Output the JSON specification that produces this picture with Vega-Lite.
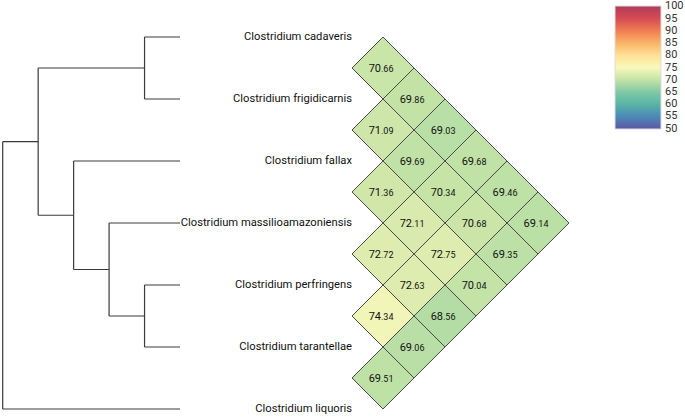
{
  "$schema": "https://vega.github.io/schema/vega-lite/v6.json",
  "width": 685,
  "height": 418,
  "padding": 0,
  "autosize": "none",
  "config": {"view": {"stroke": null}, "font": "Roboto"},
  "datasets": {
    "tree": [
      {"x1": 0, "x2": 0, "y1": 1.6875, "y2": 6},
      {"x1": 0, "x2": 1, "y1": 1.6875, "y2": 1.6875},
      {"x1": 0, "x2": 5, "y1": 6, "y2": 6},
      {"x1": 1, "x2": 1, "y1": 0.5, "y2": 2.875},
      {"x1": 1, "x2": 4, "y1": 0.5, "y2": 0.5},
      {"x1": 1, "x2": 2, "y1": 2.875, "y2": 2.875},
      {"x1": 4, "x2": 4, "y1": 0, "y2": 1},
      {"x1": 4, "x2": 5, "y1": 0, "y2": 0},
      {"x1": 4, "x2": 5, "y1": 1, "y2": 1},
      {"x1": 2, "x2": 2, "y1": 2, "y2": 3.75},
      {"x1": 2, "x2": 5, "y1": 2, "y2": 2},
      {"x1": 2, "x2": 3, "y1": 3.75, "y2": 3.75},
      {"x1": 3, "x2": 3, "y1": 3, "y2": 4.5},
      {"x1": 3, "x2": 5, "y1": 3, "y2": 3},
      {"x1": 3, "x2": 4, "y1": 4.5, "y2": 4.5},
      {"x1": 4, "x2": 4, "y1": 4, "y2": 5},
      {"x1": 4, "x2": 5, "y1": 4, "y2": 4},
      {"x1": 4, "x2": 5, "y1": 5, "y2": 5}
    ],
    "leaves": [
      {"name": "Clostridium cadaveris", "i": 0, "depth": 5},
      {"name": "Clostridium frigidicarnis", "i": 1, "depth": 5},
      {"name": "Clostridium fallax", "i": 2, "depth": 5},
      {"name": "Clostridium massilioamazoniensis", "i": 3, "depth": 5},
      {"name": "Clostridium perfringens", "i": 4, "depth": 5},
      {"name": "Clostridium tarantellae", "i": 5, "depth": 5},
      {"name": "Clostridium liquoris", "i": 6, "depth": 5}
    ],
    "cells": [
      {"i": 0, "j": 1, "value": 70.66},
      {"i": 0, "j": 2, "value": 69.86},
      {"i": 1, "j": 2, "value": 71.09},
      {"i": 0, "j": 3, "value": 69.03},
      {"i": 1, "j": 3, "value": 69.69},
      {"i": 2, "j": 3, "value": 71.36},
      {"i": 0, "j": 4, "value": 69.68},
      {"i": 1, "j": 4, "value": 70.34},
      {"i": 2, "j": 4, "value": 72.11},
      {"i": 3, "j": 4, "value": 72.72},
      {"i": 0, "j": 5, "value": 69.46},
      {"i": 1, "j": 5, "value": 70.68},
      {"i": 2, "j": 5, "value": 72.75},
      {"i": 3, "j": 5, "value": 72.63},
      {"i": 4, "j": 5, "value": 74.34},
      {"i": 0, "j": 6, "value": 69.14},
      {"i": 1, "j": 6, "value": 69.35},
      {"i": 2, "j": 6, "value": 70.04},
      {"i": 3, "j": 6, "value": 68.56},
      {"i": 4, "j": 6, "value": 69.06},
      {"i": 5, "j": 6, "value": 69.51}
    ]
  },
  "resolve": {"scale": {"x": "independent"}},
  "layer": [
    {
      "data": {"name": "tree"},
      "mark": {"type": "rule", "color": "#3a3a3a", "strokeWidth": 1.2},
      "encoding": {
        "x": {"field": "x1", "type": "quantitative", "axis": null, "scale": {"domain": [-0.0761, 19.241], "nice": false, "zero": false}},
        "x2": {"field": "x2"},
        "y": {"field": "y1", "type": "quantitative", "axis": null, "scale": {"domain": [-0.5968, 6.1452], "nice": false, "zero": false, "reverse": true}},
        "y2": {"field": "y2"}
      }
    },
    {
      "data": {"name": "leaves"},
      "mark": {"type": "text", "align": "right", "baseline": "middle", "dx": 172, "fontSize": 11.2, "color": "#111"},
      "encoding": {
        "x": {"field": "depth", "type": "quantitative", "axis": null, "scale": {"domain": [-0.0761, 19.241], "nice": false, "zero": false}},
        "y": {"field": "i", "type": "quantitative", "axis": null},
        "text": {"field": "name"}
      }
    },
    {
      "data": {"name": "cells"},
      "transform": [
        {"calculate": "datum.j - datum.i - 1", "as": "k"},
        {"calculate": "(datum.i + datum.j) / 2", "as": "cy"},
        {"calculate": "split(format(datum.value, '.2f'), '.')[0]", "as": "ip"},
        {"calculate": "'.' + split(format(datum.value, '.2f'), '.')[1]", "as": "dp"}
      ],
      "encoding": {
        "x": {"field": "k", "type": "quantitative", "axis": null, "scale": {"domain": [-12.355, 9.742], "nice": false, "zero": false}},
        "y": {"field": "cy", "type": "quantitative", "axis": null}
      },
      "layer": [
        {
          "mark": {"type": "point", "shape": "diamond", "size": 3844, "filled": true, "stroke": "#4a4a4a", "strokeWidth": 1, "opacity": 1},
          "encoding": {
            "color": {
              "field": "value", "type": "quantitative",
              "scale": {
                "domain": [49.8, 55, 60, 62.5, 65, 67.5, 70, 72.5, 75, 80, 85, 90, 95, 100.2],
                "range": ["#5f56a3", "#4a8bb6", "#5ab4a4", "#68c0a5", "#80c9a6", "#a6d9a5", "#c4e3a6", "#dcebae", "#f9f8bb", "#fde194", "#fab46a", "#f07e52", "#d64c55", "#b13a5a"],
                "interpolate": "rgb"
              },
              "legend": {
                "title": null, "orient": "none", "legendX": 615, "legendY": 6,
                "gradientLength": 123, "gradientThickness": 46, "padding": 0,
                "values": [50, 55, 60, 65, 70, 75, 80, 85, 90, 95, 100],
                "labelOverlap": false, "labelFontSize": 11, "labelColor": "#333", "labelOffset": 4,
                "gradientStrokeColor": "#ddd", "gradientStrokeWidth": 1,
                "encode": {"labels": {"enter": {"baseline": {"value": "middle"}}, "update": {"baseline": {"value": "middle"}}}}
              }
            }
          }
        },
        {
          "mark": {"type": "text", "align": "right", "baseline": "alphabetic", "dx": -2, "dy": 4, "fontSize": 11, "color": "#111"},
          "encoding": {"text": {"field": "ip"}}
        },
        {
          "mark": {"type": "text", "align": "left", "baseline": "alphabetic", "dx": -2, "dy": 4, "fontSize": 9, "color": "#111"},
          "encoding": {"text": {"field": "dp"}}
        }
      ]
    }
  ]
}
